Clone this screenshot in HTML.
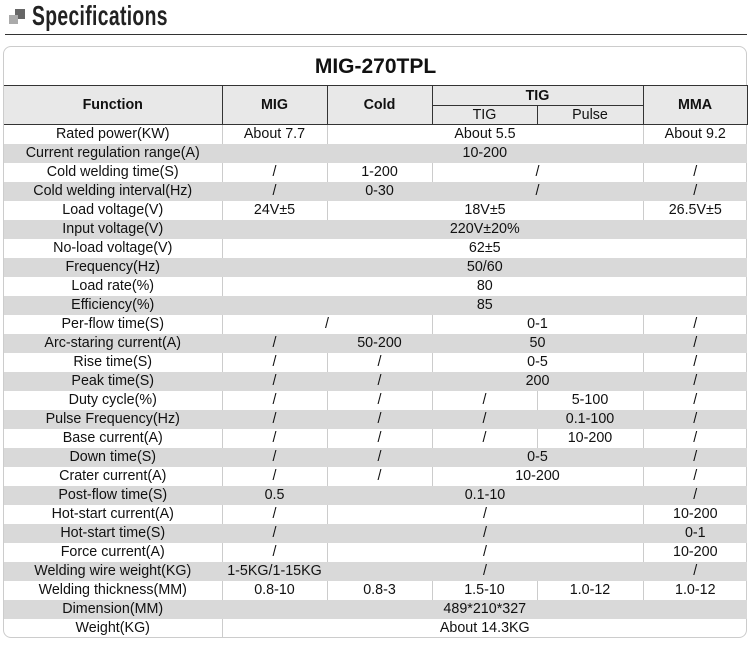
<!DOCTYPE html>
<html><head><meta charset="utf-8"><style>
body{margin:0;width:750px;height:650px;background:#fff;position:relative;overflow:hidden;font-family:"Liberation Sans",Arial,sans-serif;}
.t{position:absolute;left:32px;top:0px;font-size:28px;font-weight:bold;color:#222;transform:scaleX(0.69);transform-origin:left top;white-space:nowrap;letter-spacing:0.5px}
.hr{position:absolute;left:5px;top:34px;width:742px;height:1px;background:#333}
.sq1{position:absolute;left:15px;top:9px;width:10px;height:10px;background:#666}
.sq2{position:absolute;left:9px;top:15px;width:9px;height:9px;background:#aaa}
.frame{position:absolute;left:3px;top:46px;width:742px;height:590px;border:1px solid #ccc;border-radius:8px;}
table{position:absolute;left:4px;top:48px;border-collapse:collapse;table-layout:fixed;width:743px;font-size:14.3px;color:#111}
td{padding:0;text-align:center;height:19px;line-height:19px;border-left:1px solid #ccc;white-space:nowrap;overflow:hidden}
td:first-child{border-left:none}
tr.g td{background:#d9d9d9;border-color:#d9d9d9}
.title td{height:37px;font-size:21px;font-weight:bold;border-left:none;border-bottom:1px solid #333}
.h td{background:#e8e8e8;border:1px solid #333;font-weight:bold;height:19px;line-height:18px}
.h td.s{font-weight:normal;height:18px}
.h td:first-child{border-left:none}
</style></head><body>
<div class="sq1"></div><div class="sq2"></div>
<div class="t">Specifications</div>
<div class="hr"></div>
<div class="frame"></div>
<table>
<colgroup><col style="width:218px"><col style="width:105px"><col style="width:105px"><col style="width:105px"><col style="width:106px"><col style="width:104px"></colgroup>
<tr class="title"><td colspan="6">MIG-270TPL</td></tr>
<tr class="h"><td rowspan="2">Function</td><td rowspan="2">MIG</td><td rowspan="2">Cold</td><td colspan="2">TIG</td><td rowspan="2">MMA</td></tr>
<tr class="h"><td class="s">TIG</td><td class="s">Pulse</td></tr>
<tr><td>Rated power(KW)</td><td>About 7.7</td><td colspan="3">About 5.5</td><td>About 9.2</td></tr>
<tr class="g"><td>Current regulation range(A)</td><td colspan="5">10-200</td></tr>
<tr><td>Cold welding time(S)</td><td>/</td><td>1-200</td><td colspan="2">/</td><td>/</td></tr>
<tr class="g"><td>Cold welding interval(Hz)</td><td>/</td><td>0-30</td><td colspan="2">/</td><td>/</td></tr>
<tr><td>Load voltage(V)</td><td>24V±5</td><td colspan="3">18V±5</td><td>26.5V±5</td></tr>
<tr class="g"><td>Input voltage(V)</td><td colspan="5">220V±20%</td></tr>
<tr><td>No-load voltage(V)</td><td colspan="5">62±5</td></tr>
<tr class="g"><td>Frequency(Hz)</td><td colspan="5">50/60</td></tr>
<tr><td>Load rate(%)</td><td colspan="5">80</td></tr>
<tr class="g"><td>Efficiency(%)</td><td colspan="5">85</td></tr>
<tr><td>Per-flow time(S)</td><td colspan="2">/</td><td colspan="2">0-1</td><td>/</td></tr>
<tr class="g"><td>Arc-staring current(A)</td><td>/</td><td>50-200</td><td colspan="2">50</td><td>/</td></tr>
<tr><td>Rise time(S)</td><td>/</td><td>/</td><td colspan="2">0-5</td><td>/</td></tr>
<tr class="g"><td>Peak time(S)</td><td>/</td><td>/</td><td colspan="2">200</td><td>/</td></tr>
<tr><td>Duty cycle(%)</td><td>/</td><td>/</td><td>/</td><td>5-100</td><td>/</td></tr>
<tr class="g"><td>Pulse Frequency(Hz)</td><td>/</td><td>/</td><td>/</td><td>0.1-100</td><td>/</td></tr>
<tr><td>Base current(A)</td><td>/</td><td>/</td><td>/</td><td>10-200</td><td>/</td></tr>
<tr class="g"><td>Down time(S)</td><td>/</td><td>/</td><td colspan="2">0-5</td><td>/</td></tr>
<tr><td>Crater current(A)</td><td>/</td><td>/</td><td colspan="2">10-200</td><td>/</td></tr>
<tr class="g"><td>Post-flow time(S)</td><td>0.5</td><td colspan="3">0.1-10</td><td>/</td></tr>
<tr><td>Hot-start current(A)</td><td>/</td><td colspan="3">/</td><td>10-200</td></tr>
<tr class="g"><td>Hot-start time(S)</td><td>/</td><td colspan="3">/</td><td>0-1</td></tr>
<tr><td>Force current(A)</td><td>/</td><td colspan="3">/</td><td>10-200</td></tr>
<tr class="g"><td>Welding wire weight(KG)</td><td>1-5KG/1-15KG</td><td colspan="3">/</td><td>/</td></tr>
<tr><td>Welding thickness(MM)</td><td>0.8-10</td><td>0.8-3</td><td>1.5-10</td><td>1.0-12</td><td>1.0-12</td></tr>
<tr class="g"><td>Dimension(MM)</td><td colspan="5">489*210*327</td></tr>
<tr><td>Weight(KG)</td><td colspan="5">About 14.3KG</td></tr>
</table>
</body></html>
